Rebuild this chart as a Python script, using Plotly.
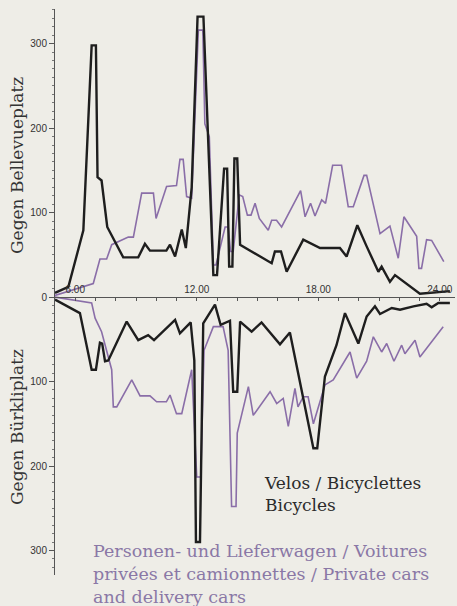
import plotly.graph_objects as go

# ---- data (hours of day, counts) ----
bike_bellevue_h = [5.0, 5.66, 6.4, 6.6, 6.81, 7.02, 7.1, 7.3, 7.58, 8.37, 9.11, 9.44, 9.69, 10.5, 10.68,
                   10.93, 11.26, 11.46, 11.75, 12.04, 12.33, 12.82, 13.0, 13.35, 13.5, 13.6, 13.76, 13.86,
                   14.0, 14.14, 15.7, 15.86, 16.16, 16.44, 17.26, 18.09, 19.07, 19.4, 19.93, 20.39, 20.97,
                   21.13, 21.54, 21.79, 23.02, 24.5]
bike_bellevue_v = [5, 12, 79, 182, 298, 298, 142, 138, 83, 47, 47, 63, 55, 55, 62,
                   48, 80, 58, 130, 332, 332, 26, 26, 152, 152, 36, 36, 164,
                   164, 62, 40, 54, 54, 30, 68, 58, 58, 48, 85, 60, 30,
                   36, 18, 26, 4, 7]

car_bellevue_h = [5.0, 6.89, 7.22, 7.55, 7.8, 8.21, 8.62, 8.87, 9.28, 9.86, 9.99, 10.51, 11.0, 11.17, 11.33,
                  11.5, 11.75, 12.08, 12.3, 12.4, 12.62, 12.82, 12.95, 13.4, 13.55, 13.67, 13.8, 14.1, 14.27,
                  14.5, 14.68, 14.88, 15.09, 15.53, 15.7, 15.94, 16.19, 17.13, 17.35, 17.62, 17.84, 18.17,
                  18.36, 18.71, 19.15, 19.48, 19.73, 20.26, 20.39, 21.05, 21.54, 21.95, 22.23, 22.86, 22.97,
                  23.1, 23.35, 23.6, 24.2]
car_bellevue_v = [2, 16, 45, 45, 62, 67, 71, 71, 123, 123, 93, 131, 132, 163, 163,
                  119, 117, 316, 316, 205, 190, 38, 38, 83, 83, 54, 54, 121, 119,
                  97, 97, 111, 93, 79, 91, 91, 83, 126, 95, 111, 96, 115,
                  111, 156, 156, 107, 107, 144, 144, 75, 84, 46, 95, 72, 34,
                  34, 68, 67, 42]

bike_buerkli_h = [5.0, 6.23, 6.81, 7.02, 7.22, 7.33, 7.47, 7.63, 8.54, 9.11, 9.6, 9.89, 10.93, 11.17, 11.7,
                  11.88, 11.96, 12.16, 12.32, 12.9, 13.18, 13.64, 13.8, 14.0, 14.14, 14.71, 15.2, 16.11,
                  16.6, 17.76, 17.95, 18.33, 18.9, 19.32, 19.98, 20.39, 20.8, 21.05, 21.63, 22.04, 22.7,
                  23.35, 23.6, 23.93, 24.5]
bike_buerkli_v = [3, 19, 86, 86, 54, 55, 76, 75, 29, 51, 45, 51, 27, 43, 30,
                  75, 290, 290, 31, 9, 33, 28, 112, 112, 29, 41, 30, 56,
                  42, 179, 179, 94, 57, 19, 55, 23, 11, 20, 13, 15, 11,
                  8, 12, 7, 7]

car_buerkli_h = [5.0, 6.81, 6.98, 7.3, 7.8, 7.88, 8.05, 8.79, 9.2, 9.69, 10.02, 10.5, 10.68, 11.0, 11.26,
                 11.75, 12.0, 12.2, 12.36, 12.82, 13.3, 13.55, 13.72, 13.94, 14.0, 14.55, 14.79, 15.62,
                 15.95, 16.27, 16.52, 16.85, 17.0, 17.26, 17.5, 17.76, 18.33, 18.74, 19.57, 19.9, 20.39,
                 20.72, 21.13, 21.38, 21.74, 22.12, 22.28, 22.78, 23.02, 24.17]
car_buerkli_v = [0, 7, 25, 41, 86, 130, 130, 98, 117, 117, 124, 124, 116, 138, 138,
                 86, 213, 213, 63, 35, 35, 63, 248, 248, 161, 106, 140, 112,
                 126, 120, 153, 108, 130, 118, 118, 150, 104, 98, 65, 96, 76,
                 47, 65, 55, 76, 57, 67, 51, 71, 35]

x_tick_vals = [6, 12, 18, 24]
x_tick_text = ["6.00", "12.00", "18.00", "24.00"]
y_tick_vals = [-300, -200, -100, 0, 100, 200, 300]
y_tick_text = ["300", "200", "100", "0", "100", "200", "300"]

# ---- style ----
BG = "#eeede7"
BLACK = "#1e1e1e"
PURPLE = "#8a6ea8"
PURPLE_TXT = "#8a78a6"
W, H = 457, 606
L, R, T, B = 55, 455, 9, 575
Y_MIN, Y_MAX = -329, 341
X_MIN, X_MAX = 5, 5 + (R - L) / 20.25


def px(x):
    return (x - L) / (R - L)


def py(y):
    return (B - y) / (B - T)


fig = go.Figure()
fig.add_trace(go.Scatter(x=car_bellevue_h, y=car_bellevue_v, mode="lines",
                         line=dict(color=PURPLE, width=1.6), hoverinfo="skip"))
fig.add_trace(go.Scatter(x=car_buerkli_h, y=[-v for v in car_buerkli_v], mode="lines",
                         line=dict(color=PURPLE, width=1.6), hoverinfo="skip"))
fig.add_trace(go.Scatter(x=bike_bellevue_h, y=bike_bellevue_v, mode="lines",
                         line=dict(color=BLACK, width=2.4), hoverinfo="skip"))
fig.add_trace(go.Scatter(x=bike_buerkli_h, y=[-v for v in bike_buerkli_v], mode="lines",
                         line=dict(color=BLACK, width=2.4), hoverinfo="skip"))

zero_pos = (0 - Y_MIN) / (Y_MAX - Y_MIN)

fig.update_layout(
    width=W, height=H,
    margin=dict(l=L, r=W - R, t=T, b=H - B, autoexpand=False),
    paper_bgcolor=BG, plot_bgcolor=BG,
    showlegend=False,
    xaxis=dict(range=[X_MIN, X_MAX], anchor="free", position=zero_pos, side="top",
               automargin=False,
               showline=True, linecolor="#555", linewidth=1,
               showgrid=False, zeroline=False,
               tickmode="array", tickvals=x_tick_vals, ticktext=x_tick_text,
               ticks="inside", ticklen=3, tickcolor="#555",
               minor=dict(tickmode="linear", tick0=5, dtick=1, ticks="inside", ticklen=3, tickcolor="#555"),
               tickfont=dict(family="Liberation Sans", size=10, color="#333")),
    yaxis=dict(range=[Y_MIN, Y_MAX], automargin=False,
               showline=True, linecolor="#555", linewidth=1,
               showgrid=False, zeroline=False,
               tickmode="array", tickvals=y_tick_vals, ticktext=y_tick_text,
               ticks="outside", ticklen=5, tickcolor="#555",
               minor=dict(tickmode="linear", tick0=0, dtick=10, ticks="outside", ticklen=2, tickcolor="#777"),
               tickfont=dict(family="Liberation Sans", size=10, color="#333")),
)

SERIF = "DejaVu Serif"
ann = [
    dict(text="Gegen Bellevueplatz", x=px(17), y=py(166), textangle=-90,
         font=dict(family=SERIF, size=17, color="#333"), xanchor="center", yanchor="middle"),
    dict(text="Gegen Bürkliplatz", x=px(17), y=py(427), textangle=-90,
         font=dict(family=SERIF, size=17, color="#333"), xanchor="center", yanchor="middle"),
    dict(text="Velos / Bicyclettes<br>Bicycles", x=px(262), y=py(494), align="left",
         font=dict(family=SERIF, size=17, color="#2b2b2b"), xanchor="left", yanchor="middle"),
    dict(text="Personen- und Lieferwagen / Voitures<br>privées et camionnettes / Private cars<br>and delivery cars",
         x=px(91), y=py(574), align="left",
         font=dict(family=SERIF, size=17.5, color=PURPLE_TXT), xanchor="left", yanchor="middle"),
]
for a in ann:
    a.update(xref="paper", yref="paper", showarrow=False)
fig.update_layout(annotations=ann)

fig.write_html(
    "out.html",
    config={"displayModeBar": False},
    post_script="document.body.style.margin='0';document.body.style.background='%s';"
                "document.documentElement.style.background='%s';" % (BG, BG),
)
